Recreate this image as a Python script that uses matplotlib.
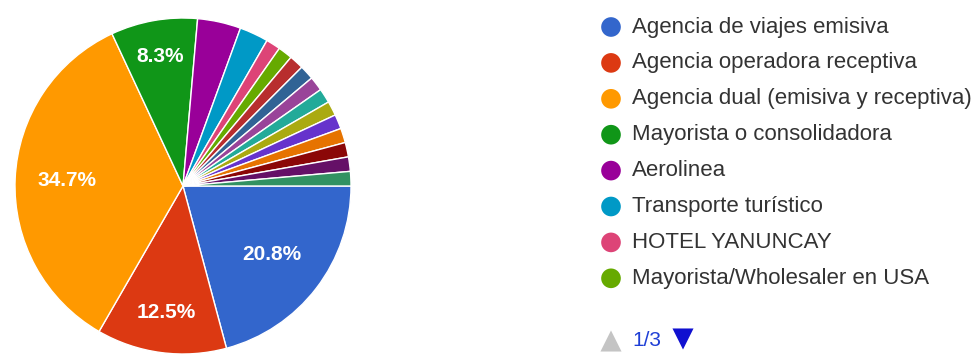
import numpy as np
import matplotlib.pyplot as plt

plt.rcParams['font.family'] = ['Liberation Sans', 'DejaVu Sans']

# respuestas por categoria (72 en total)
counts = [15, 9, 25, 6, 3, 2, 1, 1, 1, 1, 1, 1, 1, 1, 1, 1, 1, 1]
colors = ['#3366cc', '#dc3912', '#ff9900', '#109618', '#990099', '#0099c6',
          '#dd4477', '#66aa00', '#b82e2e', '#316395', '#994499', '#22aa99',
          '#aaaa11', '#6633cc', '#e67300', '#8b0707', '#651067', '#329262']
legend_labels = ['Agencia de viajes emisiva', 'Agencia operadora receptiva',
                 'Agencia dual (emisiva y receptiva)', 'Mayorista o consolidadora',
                 'Aerolinea', 'Transporte turístico', 'HOTEL YANUNCAY',
                 'Mayorista/Wholesaler en USA']
page_text = '1/3'

W, H = 978, 354
fig = plt.figure(figsize=(W / 100, H / 100), dpi=100)

# pie: centre ~ (183, 186) px, radius ~168 px
cx, cy, r = 183, 186, 168
ax = fig.add_axes([(cx - r) / W, (H - cy - r) / H, 2 * r / W, 2 * r / H])


def pct(p):
    return '%.1f%%' % p if p > 5 else ''


wedges, texts, autotexts = ax.pie(counts, colors=colors, startangle=0, counterclock=False,
                                  autopct=pct, pctdistance=0.68,
                                  wedgeprops=dict(edgecolor='white', linewidth=1))
# label distance from centre, per labelled slice
label_dist = [0.67, 0.76, 0.69, 0.78]
for i, t in enumerate(autotexts):
    t.set_color('white')
    t.set_fontsize(15)
    t.set_fontweight('bold')
    if i < len(label_dist):
        w = wedges[i]
        a = np.deg2rad((w.theta1 + w.theta2) / 2)
        t.set_position((label_dist[i] * np.cos(a), label_dist[i] * np.sin(a)))
ax.set_xlim(-1, 1)
ax.set_ylim(-1, 1)
ax.set_aspect('auto')
ax.axis('off')

# legend (page 1 of 3)
lg = fig.add_axes([0, 0, 1, 1])
lg.set_xlim(0, W)
lg.set_ylim(H, 0)
lg.axis('off')
y0, dy = 27, 35.9
for i, name in enumerate(legend_labels):
    y = y0 + i * dy
    lg.scatter([611], [y], s=200, color=colors[i], edgecolors='none')
    lg.text(632, y, name, fontsize=16, color='#333333', va='center', ha='left')

lg.scatter([611], [341], marker='^', s=230, color='#c4c4c4', edgecolors='none', clip_on=False)
lg.text(632, 340, page_text, fontsize=15, color='#1f3fd6', va='center', ha='left')
lg.scatter([683], [339], marker='v', s=230, color='#1010d0', edgecolors='none')

fig.savefig('out.png', dpi=100)
